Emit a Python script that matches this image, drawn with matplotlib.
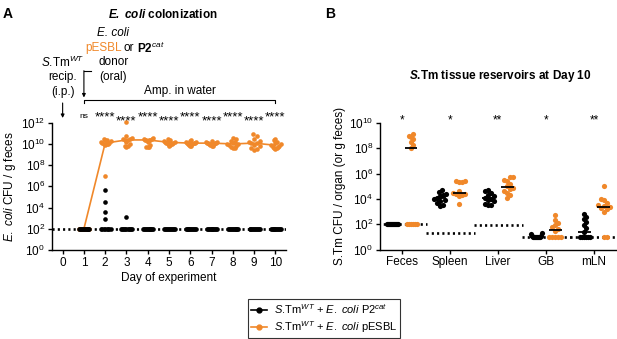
import numpy as np
import matplotlib
matplotlib.use("Agg")
import matplotlib.pyplot as plt
import matplotlib.transforms as mtransforms
from matplotlib.lines import Line2D
from matplotlib.ticker import FixedLocator, LogFormatterMathtext, NullLocator

plt.rcParams["font.family"] = ["Liberation Sans", "DejaVu Sans"]
plt.rcParams["mathtext.fontset"] = "custom"
plt.rcParams["mathtext.rm"] = "Liberation Sans"
plt.rcParams["mathtext.it"] = "Liberation Sans:italic"
plt.rcParams["mathtext.bf"] = "Liberation Sans:bold"
plt.rcParams["mathtext.bfit"] = "Liberation Sans:italic:bold"
plt.rcParams["xtick.direction"] = "out"
plt.rcParams["ytick.direction"] = "out"

ORANGE = "#F0882A"

### Panel A data: log10 E. coli CFU / g feces, per day (n = 12 per group)
days = [1, 2, 3, 4, 5, 6, 7, 8, 9, 10]
p2cat_log = [
    [2] * 12,
    [5.7, 4.5, 3.6, 2.9] + [2] * 8,
    [3.1] + [2] * 11,
    [2] * 12,
    [2] * 12,
    [2] * 12,
    [2] * 12,
    [2] * 12,
    [2] * 12,
    [2] * 12,
]
pesbl_log = [
    [2] * 12,
    [10.45, 10.4, 10.35, 10.3, 10.2, 10.1, 10.05, 10.0, 10.0, 9.95, 9.9, 6.95],
    [12.1, 10.75, 10.6, 10.5, 10.45, 10.4, 10.35, 10.2, 10.0, 9.85, 9.8, 9.75],
    [10.6, 10.5, 10.45, 10.4, 10.4, 10.4, 10.35, 10.2, 9.9, 9.75, 9.7, 9.7],
    [10.5, 10.4, 10.3, 10.25, 10.2, 10.2, 10.1, 10.05, 10.0, 9.95, 9.9, 9.85],
    [10.35, 10.3, 10.2, 10.15, 10.1, 10.1, 10.05, 10.0, 9.95, 9.9, 9.85, 9.8],
    [10.3, 10.2, 10.15, 10.1, 10.1, 10.1, 10.05, 10.0, 9.95, 9.9, 9.85, 9.8],
    [10.55, 10.45, 10.3, 10.15, 10.05, 10.0, 10.0, 9.9, 9.8, 9.7, 9.65, 9.6],
    [10.9, 10.7, 10.5, 10.3, 10.2, 10.1, 10.05, 9.9, 9.8, 9.6, 9.5, 9.4],
    [10.5, 10.35, 10.2, 10.05, 9.95, 9.9, 9.85, 9.75, 9.7, 9.65, 9.6, 9.55],
]
stars_a = ["ns", "****", "****", "****", "****", "****", "****", "****", "****", "****"]

### Panel B data: log10 S.Tm CFU / organ at day 10
tissues = ["Feces", "Spleen", "Liver", "GB", "mLN"]
stm_p2cat_log = [
    [2] * 12,
    [4.7, 4.55, 4.4, 4.3, 4.2, 4.1, 4.0, 3.9, 3.8, 3.7, 3.55, 3.4],
    [4.7, 4.6, 4.5, 4.3, 4.2, 4.1, 4.0, 3.9, 3.8, 3.6, 3.5, 3.5],
    [1.3, 1.2, 1.1, 1.05] + [1] * 8,
    [2.8, 2.6, 2.4, 2.2, 1.9, 1.7, 1.4] + [1] * 6,
]
stm_pesbl_log = [
    [9.1, 9.0, 8.9, 8.7, 8.5, 8.3, 8.0] + [2] * 6,
    [5.45, 5.4, 5.35, 5.3, 4.6, 4.5, 4.4, 4.35, 4.3, 4.2, 3.6],
    [5.7, 5.7, 5.5, 5.45, 5.2, 5.0, 4.85, 4.8, 4.6, 4.5, 4.3, 4.1],
    [2.7, 2.3, 2.1, 1.9, 1.8, 1.6, 1.5] + [1] * 5,
    [5.0, 4.0, 3.9, 3.7, 3.5, 3.4, 3.35, 3.3, 3.2, 3.0, 1, 1],
]
lod_b_log = [2, 1.3, 1.9, 1.0, 1.0]
stars_b = ["*", "*", "**", "*", "**"]


def swarm_x(ax, x0, logvals, dot_px, max_half_px):
    '''Simple beeswarm: spread tied points sideways (display pixels), then squeeze.'''
    vals = 10.0 ** np.asarray(logvals, dtype=float)
    pts = ax.transData.transform(np.column_stack([np.full(len(vals), x0), vals]))
    xc, ys = pts[0, 0], pts[:, 1]
    placed = []
    dx = np.zeros(len(ys))
    cands = [0.0]
    for k in range(1, 60):
        cands += [k * dot_px * 0.5, -k * dot_px * 0.5]
    for i in np.argsort(ys):
        for c in cands:
            if all((c - px) ** 2 + (ys[i] - py) ** 2 >= dot_px ** 2 for px, py in placed):
                break
        placed.append((c, ys[i]))
        dx[i] = c
    m = np.abs(dx).max()
    if m > max_half_px:
        dx *= max_half_px / m
    return ax.transData.inverted().transform(np.column_stack([xc + dx, ys]))[:, 0]


def style_axes(ax):
    for side in ["top", "right"]:
        ax.spines[side].set_visible(False)
    for side in ["left", "bottom"]:
        ax.spines[side].set_linewidth(1.0)
    ax.tick_params(width=1.0, length=3, labelsize=8.5, pad=2)
    ax.yaxis.set_major_formatter(LogFormatterMathtext())
    ax.yaxis.set_minor_locator(NullLocator())


W, H = 617, 339
fig = plt.figure(figsize=(W / 100, H / 100), dpi=100)

def fy(ypix):
    return 1 - ypix / H

### ---------------- Panel A ----------------
ax_a = fig.add_axes([52 / W, fy(250), (286 - 52) / W, (250 - 122.7) / H])
ax_a.set_yscale("log")
ax_a.set_xlim(-0.5, 10.5)
ax_a.set_ylim(1, 1e12)
style_axes(ax_a)
ax_a.set_xticks(range(0, 11))
ax_a.yaxis.set_major_locator(FixedLocator([10.0 ** e for e in range(0, 13, 2)]))
ax_a.set_xlabel("Day of experiment", fontsize=8.5, labelpad=2)
ax_a.set_ylabel(r"$\mathit{E.\ coli}$ CFU / g feces", fontsize=8.5, labelpad=2)

ax_a.axhline(1e2, color="black", lw=1.9, ls=(0, (0.8, 1.2)), zorder=1)
med_a = [np.median(v) for v in pesbl_log]
ax_a.plot(days, 10.0 ** np.array(med_a), color=ORANGE, lw=1.2, zorder=2)
for d, v in zip(days, pesbl_log):
    xs = swarm_x(ax_a, d, v, 4.5, 5.5)
    ax_a.scatter(xs, 10.0 ** np.array(v), s=11, color=ORANGE, lw=0, zorder=3, clip_on=False)
for d, v in zip(days, p2cat_log):
    xs = swarm_x(ax_a, d, v, 4.5, 5.5)
    ax_a.scatter(xs, 10.0 ** np.array(v), s=11, color="black", lw=0, zorder=4, clip_on=False)

trans_a = mtransforms.blended_transform_factory(ax_a.transData, fig.transFigure)
for d, s in zip(days, stars_a):
    if s == "ns":
        ax_a.text(d, fy(118), s, fontsize=6, ha="center", va="baseline", transform=trans_a)
    else:
        yb = 120 if d % 2 == 0 else 124
        ax_a.text(d, fy(yb), s, fontsize=9.5, ha="center", va="baseline", transform=trans_a)

# treatment schedule
ax_a.annotate("", xy=(0, fy(118)), xytext=(0, fy(103)), xycoords=trans_a, textcoords=trans_a,
              arrowprops=dict(arrowstyle="-|>", color="black", lw=0.8, mutation_scale=5,
                              shrinkA=0, shrinkB=0))
ax_a.plot([1.35, 1], [fy(70.7), fy(70.7)], color="black", lw=0.8, transform=trans_a, clip_on=False)
ax_a.annotate("", xy=(1, fy(97.5)), xytext=(1, fy(70.7)), xycoords=trans_a, textcoords=trans_a,
              arrowprops=dict(arrowstyle="-|>", color="black", lw=0.8, mutation_scale=5,
                              shrinkA=0, shrinkB=0))
ax_a.plot([1, 1, 10, 10], [fy(103), fy(100), fy(100), fy(103)], color="black", lw=0.8,
          transform=trans_a, clip_on=False)
ax_a.text(5.5, fy(91), "Amp. in water", fontsize=8.5, ha="center", va="center", transform=trans_a)

for txt, yy in zip([r"$\mathit{S}$.Tm$^{WT}$", "recip.", "(i.p.)"], [62, 77, 92]):
    ax_a.text(0, fy(yy), txt, fontsize=8.5, ha="center", va="center", transform=trans_a)
ax_a.text(2.38, fy(33), "E. coli", fontsize=8.5, style="italic", ha="center", va="center", transform=trans_a)
ax_a.text(2.76, fy(48), "pESBL", fontsize=8.5, color=ORANGE, ha="right", va="center", transform=trans_a)
ax_a.text(3.1, fy(48), "or", fontsize=8.5, ha="center", va="center", transform=trans_a)
ax_a.text(3.5, fy(48), r"$\mathbf{P2}^{cat}$", fontsize=8.5, ha="left", va="center", transform=trans_a)
ax_a.text(2.38, fy(62), "donor", fontsize=8.5, ha="center", va="center", transform=trans_a)
ax_a.text(2.38, fy(77), "(oral)", fontsize=8.5, ha="center", va="center", transform=trans_a)

fig.text(8 / W, fy(14), "A", fontsize=10, weight="bold", ha="center", va="center")
fig.text(163 / W, fy(14), r"$\mathbfit{E.\ coli}$ colonization", fontsize=8.5, weight="bold",
         ha="center", va="center")

### ---------------- Panel B ----------------
ax_b = fig.add_axes([380 / W, fy(249.5), (617 - 380) / W, (249.5 - 123) / H])
ax_b.set_yscale("log")
ax_b.set_xlim(-0.45, 4.48)
ax_b.set_ylim(1, 1e10)
style_axes(ax_b)
ax_b.set_xticks(range(len(tissues)))
ax_b.set_xticklabels(tissues)
ax_b.yaxis.set_major_locator(FixedLocator([10.0 ** e for e in range(0, 11, 2)]))
ax_b.set_ylabel("S.Tm CFU / organ (or g feces)", fontsize=8.5, labelpad=2)

for i, lod in enumerate(lod_b_log):
    ax_b.hlines(10.0 ** lod, i - 0.5, i + 0.52, color="black", lw=1.9, ls=(0, (0.8, 1.2)), zorder=1)
for i, (vb, vo) in enumerate(zip(stm_p2cat_log, stm_pesbl_log)):
    xs = swarm_x(ax_b, i - 0.2, vb, 5, 6)
    ax_b.scatter(xs, 10.0 ** np.array(vb), s=14, color="black", lw=0, zorder=3)
    xs = swarm_x(ax_b, i + 0.2, vo, 5, 6)
    ax_b.scatter(xs, 10.0 ** np.array(vo), s=14, color=ORANGE, lw=0, zorder=3)
    for x0, v in [(i - 0.2, vb), (i + 0.2, vo)]:
        ax_b.hlines(10.0 ** np.median(v), x0 - 0.13, x0 + 0.13, color="black", lw=1.3, zorder=4)

trans_b = mtransforms.blended_transform_factory(ax_b.transData, fig.transFigure)
for i, s in enumerate(stars_b):
    ax_b.text(i, fy(123), s, fontsize=8.5, ha="center", va="baseline", transform=trans_b)

fig.text(330 / W, fy(14), "B", fontsize=10, weight="bold", ha="center", va="center")
fig.text(500 / W, fy(76), r"$\mathbfit{S}$.Tm tissue reservoirs at Day 10", fontsize=8.5,
         weight="bold", ha="center", va="center")

### ---------------- Legend ----------------
handles = [
    Line2D([0], [0], color="black", lw=1.2, marker="o", markersize=3.5),
    Line2D([0], [0], color=ORANGE, lw=1.2, marker="o", markersize=3.5),
]
labels = [
    r"$\mathit{S}$.Tm$^{WT}$ + $\mathit{E.\ coli}$ P2$^{cat}$",
    r"$\mathit{S}$.Tm$^{WT}$ + $\mathit{E.\ coli}$ pESBL",
]
leg = fig.legend(handles, labels, loc="center", bbox_to_anchor=(324 / W, fy(318.5)),
                 fontsize=8, frameon=True, fancybox=False, edgecolor="black",
                 handlelength=1.4, borderpad=0.3, labelspacing=0.25, handletextpad=0.6)
leg.get_frame().set_linewidth(0.8)

fig.savefig("out.png", dpi=100)
